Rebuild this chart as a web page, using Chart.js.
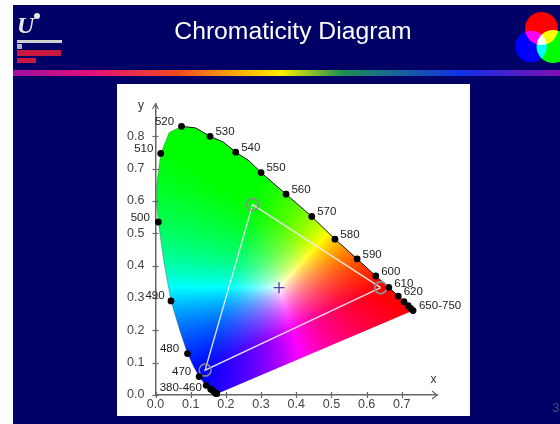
<!DOCTYPE html>
<html><head><meta charset="utf-8">
<style>html,body{margin:0;padding:0;background:#fff}canvas{display:block;filter:blur(0.35px)}</style>
<script src="https://cdn.jsdelivr.net/npm/chart.js@4"></script>
</head><body>
<canvas id="c" width="560" height="424"></canvas>
<script>
// --- data ---
const titleText = "Chromaticity Diagram";
const pageNumber = "3";
const xTicks = [0,0.1,0.2,0.3,0.4,0.5,0.6,0.7];
const yTicks = [0,0.1,0.2,0.3,0.4,0.5,0.6,0.7,0.8];
// spectral locus outline, blue end to red end
const locusX = [0.174,0.172,0.169,0.164,0.157,0.144,0.1355,0.124,0.109,0.091,0.0687,0.044,0.0235,0.008,0.0025,0.0039,0.015,0.0389,0.074,0.114,0.155,0.193,0.228,0.2658,0.30,0.371,0.444,0.51,0.573,0.626,0.663,0.69,0.706,0.718,0.732];
const locusY = [0.003,0.005,0.007,0.013,0.018,0.03,0.0399,0.057,0.0868,0.128,0.2007,0.291,0.4127,0.535,0.6,0.6548,0.747,0.812,0.831,0.826,0.80,0.782,0.751,0.7243,0.688,0.621,0.552,0.482,0.421,0.368,0.333,0.306,0.289,0.276,0.261];
// labelled wavelengths (black dots)
const waveLabels = ["380-460","470","480","490","500","510","520","530","540","550","560","570","580","590","600","610","620","650-750"];
const waveX = [0.157,0.124,0.091,0.044,0.008,0.015,0.074,0.155,0.228,0.30,0.371,0.444,0.51,0.573,0.626,0.663,0.69,0.732];
const waveY = [0.018,0.057,0.128,0.291,0.535,0.747,0.831,0.80,0.751,0.688,0.621,0.552,0.482,0.421,0.368,0.333,0.306,0.261];
// unlabelled dots of the crowded blue and red ends
const extraX = [0.144,0.164,0.169,0.172,0.173,0.174,0.706,0.718,0.725];
const extraY = [0.03,0.013,0.007,0.005,0.005,0.004,0.289,0.276,0.268];
// primaries triangle and white point
const triX = [0.64,0.276,0.141,0.64];
const triY = [0.332,0.589,0.077,0.332];
const whiteX = [0.351];
const whiteY = [0.332];

const zip = (a,b)=>a.map((v,i)=>({x:v,y:b[i]}));
const F = '"Liberation Sans", Arial, sans-serif';

// label offsets from each dot, pixels
const labelOffsets = {
 "380-460":[-30,-1.5],"470":[-17.5,-4.5],"480":[-18,-5],"490":[-16,-5],"500":[-18,-4.5],"510":[-17,-4.5],
 "520":[-17,-4.5],"530":[15,-4.5],"540":[15,-4.5],"550":[15,-4.5],"560":[15,-4.5],"570":[15,-4.5],"580":[15,-4.5],
 "590":[15,-4.5],"600":[15,-4.5],"610":[15,-4],"620":[15,-4],"650-750":[27,-5]
};

// colour map: the triangle corners are pure R, G, B and the white point is white
function inv3(m){
  const [a,b,c,d,e,f,g,h,i]=m, A=e*i-f*h, B=f*g-d*i, C=d*h-e*g, D=a*A+b*B+c*C;
  return [A/D,(c*h-b*i)/D,(b*f-c*e)/D,B/D,(a*i-c*g)/D,(c*d-a*f)/D,C/D,(b*g-a*h)/D,(a*e-b*d)/D];
}
const P = inv3([
  triX[0],triX[1],triX[2],
  triY[0],triY[1],triY[2],
  1-triX[0]-triY[0],1-triX[1]-triY[1],1-triX[2]-triY[2]]);
const mul=(x,y)=>{const z=1-x-y;return [P[0]*x+P[1]*y+P[2]*z,P[3]*x+P[4]*y+P[5]*z,P[6]*x+P[7]*y+P[8]*z];};
const wScale = mul(whiteX[0],whiteY[0]);
function rgbAt(x,y){
  const v=mul(x,y).map((k,i)=>Math.max(k/wScale[i],0));
  const m=Math.max(v[0],v[1],v[2])||1;
  return v.map(k=>Math.round(255*k/m));
}

const slide = {
  id:'slide',
  beforeDraw(ch){
    const c=ch.ctx,W=ch.width,H=ch.height;
    c.save();
    c.fillStyle='#fff';c.fillRect(0,0,W,H);
    c.fillStyle='#000066';c.fillRect(13,5,W-13,H-5);
    // rainbow band
    const g=c.createLinearGradient(13,0,560,0);
    g.addColorStop(0,'#a010a0');g.addColorStop(0.14,'#e01078');g.addColorStop(0.3,'#f04a20');
    g.addColorStop(0.49,'#fff000');g.addColorStop(0.6,'#209050');g.addColorStop(0.82,'#1030e8');g.addColorStop(1,'#8010b0');
    c.fillStyle=g;c.fillRect(13,70,W-13,6);
    // logo
    c.fillStyle='#e8e8e8';c.font='italic bold 24px "Liberation Serif", serif';c.textAlign='left';c.textBaseline='alphabetic';
    c.fillText('U',17,33);
    c.beginPath();c.arc(37,16,3,0,7);c.fill();
    c.fillStyle='#d0d0d0';c.fillRect(17,40,45,3);
    c.fillStyle='#b0b0c0';c.fillRect(17,44,5,5);
    c.fillStyle='#c81a40';c.fillRect(17,50,44,6);c.fillRect(17,58,19,5);
    // RGB circles
    const circles=[[541.5,28.5,16.5,'#ff0000'],[531,46.5,15.8,'#0000ff'],[553,46.5,16.5,'#00ff00']];
    c.fillStyle='#000';
    circles.forEach(k=>{c.beginPath();c.arc(k[0],k[1],k[2],0,7);c.fill();});
    c.globalCompositeOperation='lighter';
    circles.forEach(k=>{c.fillStyle=k[3];c.beginPath();c.arc(k[0],k[1],k[2],0,7);c.fill();});
    c.globalCompositeOperation='source-over';
    // title
    c.fillStyle='#ffffff';c.font='24.7px '+F;c.textAlign='center';c.textBaseline='middle';
    c.fillText(titleText,293,32);
    // page number
    c.fillStyle='#4a4a82';c.font='12.5px '+F;c.textAlign='left';
    c.fillText(pageNumber,552.5,409);
    // white panel
    c.fillStyle='#fff';c.fillRect(117,84,353,332);
    c.restore();
  },
  beforeDatasetsDraw(ch){
    const c=ch.ctx,sx=ch.scales.x,sy=ch.scales.y;
    // chromaticity colour field, clipped to the locus
    const x0=Math.floor(sx.getPixelForValue(0)),x1=Math.ceil(sx.getPixelForValue(0.76));
    const y0=Math.floor(sy.getPixelForValue(0.86)),y1=Math.ceil(sy.getPixelForValue(0))+1;
    const w=x1-x0,h=y1-y0,img=c.createImageData(w,h);
    for(let j=0;j<h;j++)for(let i=0;i<w;i++){
      const vx=sx.getValueForPixel(x0+i+.5),vy=sy.getValueForPixel(y0+j+.5);
      const p=rgbAt(vx,vy),o=(j*w+i)*4;
      img.data[o]=p[0];img.data[o+1]=p[1];img.data[o+2]=p[2];img.data[o+3]=255;
    }
    const off=document.createElement('canvas');off.width=w;off.height=h;off.getContext('2d').putImageData(img,0,0);
    c.save();c.beginPath();
    locusX.forEach((v,i)=>{const px=sx.getPixelForValue(v),py=sy.getPixelForValue(locusY[i]);i?c.lineTo(px,py):c.moveTo(px,py);});
    c.closePath();c.clip();c.drawImage(off,x0,y0);c.restore();
  },
  afterDatasetsDraw(ch){
    const c=ch.ctx,sx=ch.scales.x,sy=ch.scales.y;
    const ax=sx.left,ay=sy.bottom;
    c.save();
    c.strokeStyle='#666';c.lineWidth=1.2;
    // tick marks across the axes
    xTicks.forEach(v=>{const p=Math.round(sx.getPixelForValue(v))+.5;c.beginPath();c.moveTo(p,ay-3);c.lineTo(p,ay+3);c.stroke();});
    yTicks.forEach(v=>{const p=Math.round(sy.getPixelForValue(v))+.5;c.beginPath();c.moveTo(ax-3,p);c.lineTo(ax+3,p);c.stroke();});
    // arrows
    c.beginPath();c.moveTo(sx.right-5,ay-4);c.lineTo(sx.right,ay);c.lineTo(sx.right-5,ay+4);
    c.moveTo(ax-3,sy.top+5);c.lineTo(ax,sy.top);c.lineTo(ax+3,sy.top+5);c.stroke();
    // axis names and wavelength labels
    c.fillStyle='#333';c.font='12px '+F;c.textAlign='center';c.textBaseline='middle';
    c.fillText('x',433.5,380);c.fillText('y',141,106);
    c.fillStyle='#222';c.font='11.5px '+F;
    waveLabels.forEach((t,i)=>{
      const o=labelOffsets[t];
      c.fillText(t,sx.getPixelForValue(waveX[i])+o[0],sy.getPixelForValue(waveY[i])+o[1]);
    });
    c.restore();
  }
};

new Chart(document.getElementById('c'),{
  type:'scatter',
  plugins:[slide],
  data:{datasets:[
    {label:'Spectral locus',data:zip(locusX,locusY),showLine:true,borderWidth:1,pointRadius:0,fill:false,clip:false,order:4,
     borderColor:'#111',segment:{borderColor:s=>s.p0DataIndex<18?'rgba(60,60,60,0.35)':'#111'}},
    {label:'Primaries',data:zip(triX,triY),showLine:true,borderColor:'rgba(235,235,235,0.95)',borderWidth:1.4,pointRadius:6,pointBackgroundColor:'rgba(0,0,0,0)',pointBorderColor:'#8c8c8c',pointBorderWidth:1.5,clip:false,order:3},
    {label:'White point',data:zip(whiteX,whiteY),pointStyle:'cross',pointRadius:5.5,pointBorderColor:'#4a4aa8',pointBorderWidth:1.4,clip:false,order:2},
    {label:'Wavelengths',data:zip(waveX,waveY),pointRadius:3.4,pointBackgroundColor:'#000',pointBorderColor:'#000',pointBorderWidth:0,clip:false,order:1},
    {label:'Crowded ends',data:zip(extraX,extraY),pointRadius:3.4,pointBackgroundColor:'#000',pointBorderColor:'#000',pointBorderWidth:0,clip:false,order:0}
  ]},
  options:{
    responsive:false,animation:false,events:[],
    layout:{padding:{top:104,right:123,left:0,bottom:0}},
    plugins:{legend:{display:false},title:{display:false},tooltip:{enabled:false}},
    scales:{
      x:{type:'linear',min:0,max:0.8,position:'bottom',
        afterBuildTicks(s){s.ticks=xTicks.map(v=>({value:v}));},
        afterFit(s){s.height=29;},
        grid:{drawOnChartArea:false,drawTicks:false},
        border:{display:true,color:'#666',width:1.5},
        ticks:{autoSkip:false,maxRotation:0,padding:2,color:'#444',font:{family:F,size:12.5},callback:v=>v.toFixed(1)}},
      y:{type:'linear',min:0,max:0.9,position:'left',
        afterBuildTicks(s){s.ticks=yTicks.map(v=>({value:v}));},
        afterFit(s){s.width=155.5;},
        grid:{drawOnChartArea:false,drawTicks:false},
        border:{display:true,color:'#666',width:1.5},
        ticks:{autoSkip:false,padding:11,color:'#444',font:{family:F,size:12.5},callback:v=>v.toFixed(1)}}
    }
  }
});
</script>
</body></html>
